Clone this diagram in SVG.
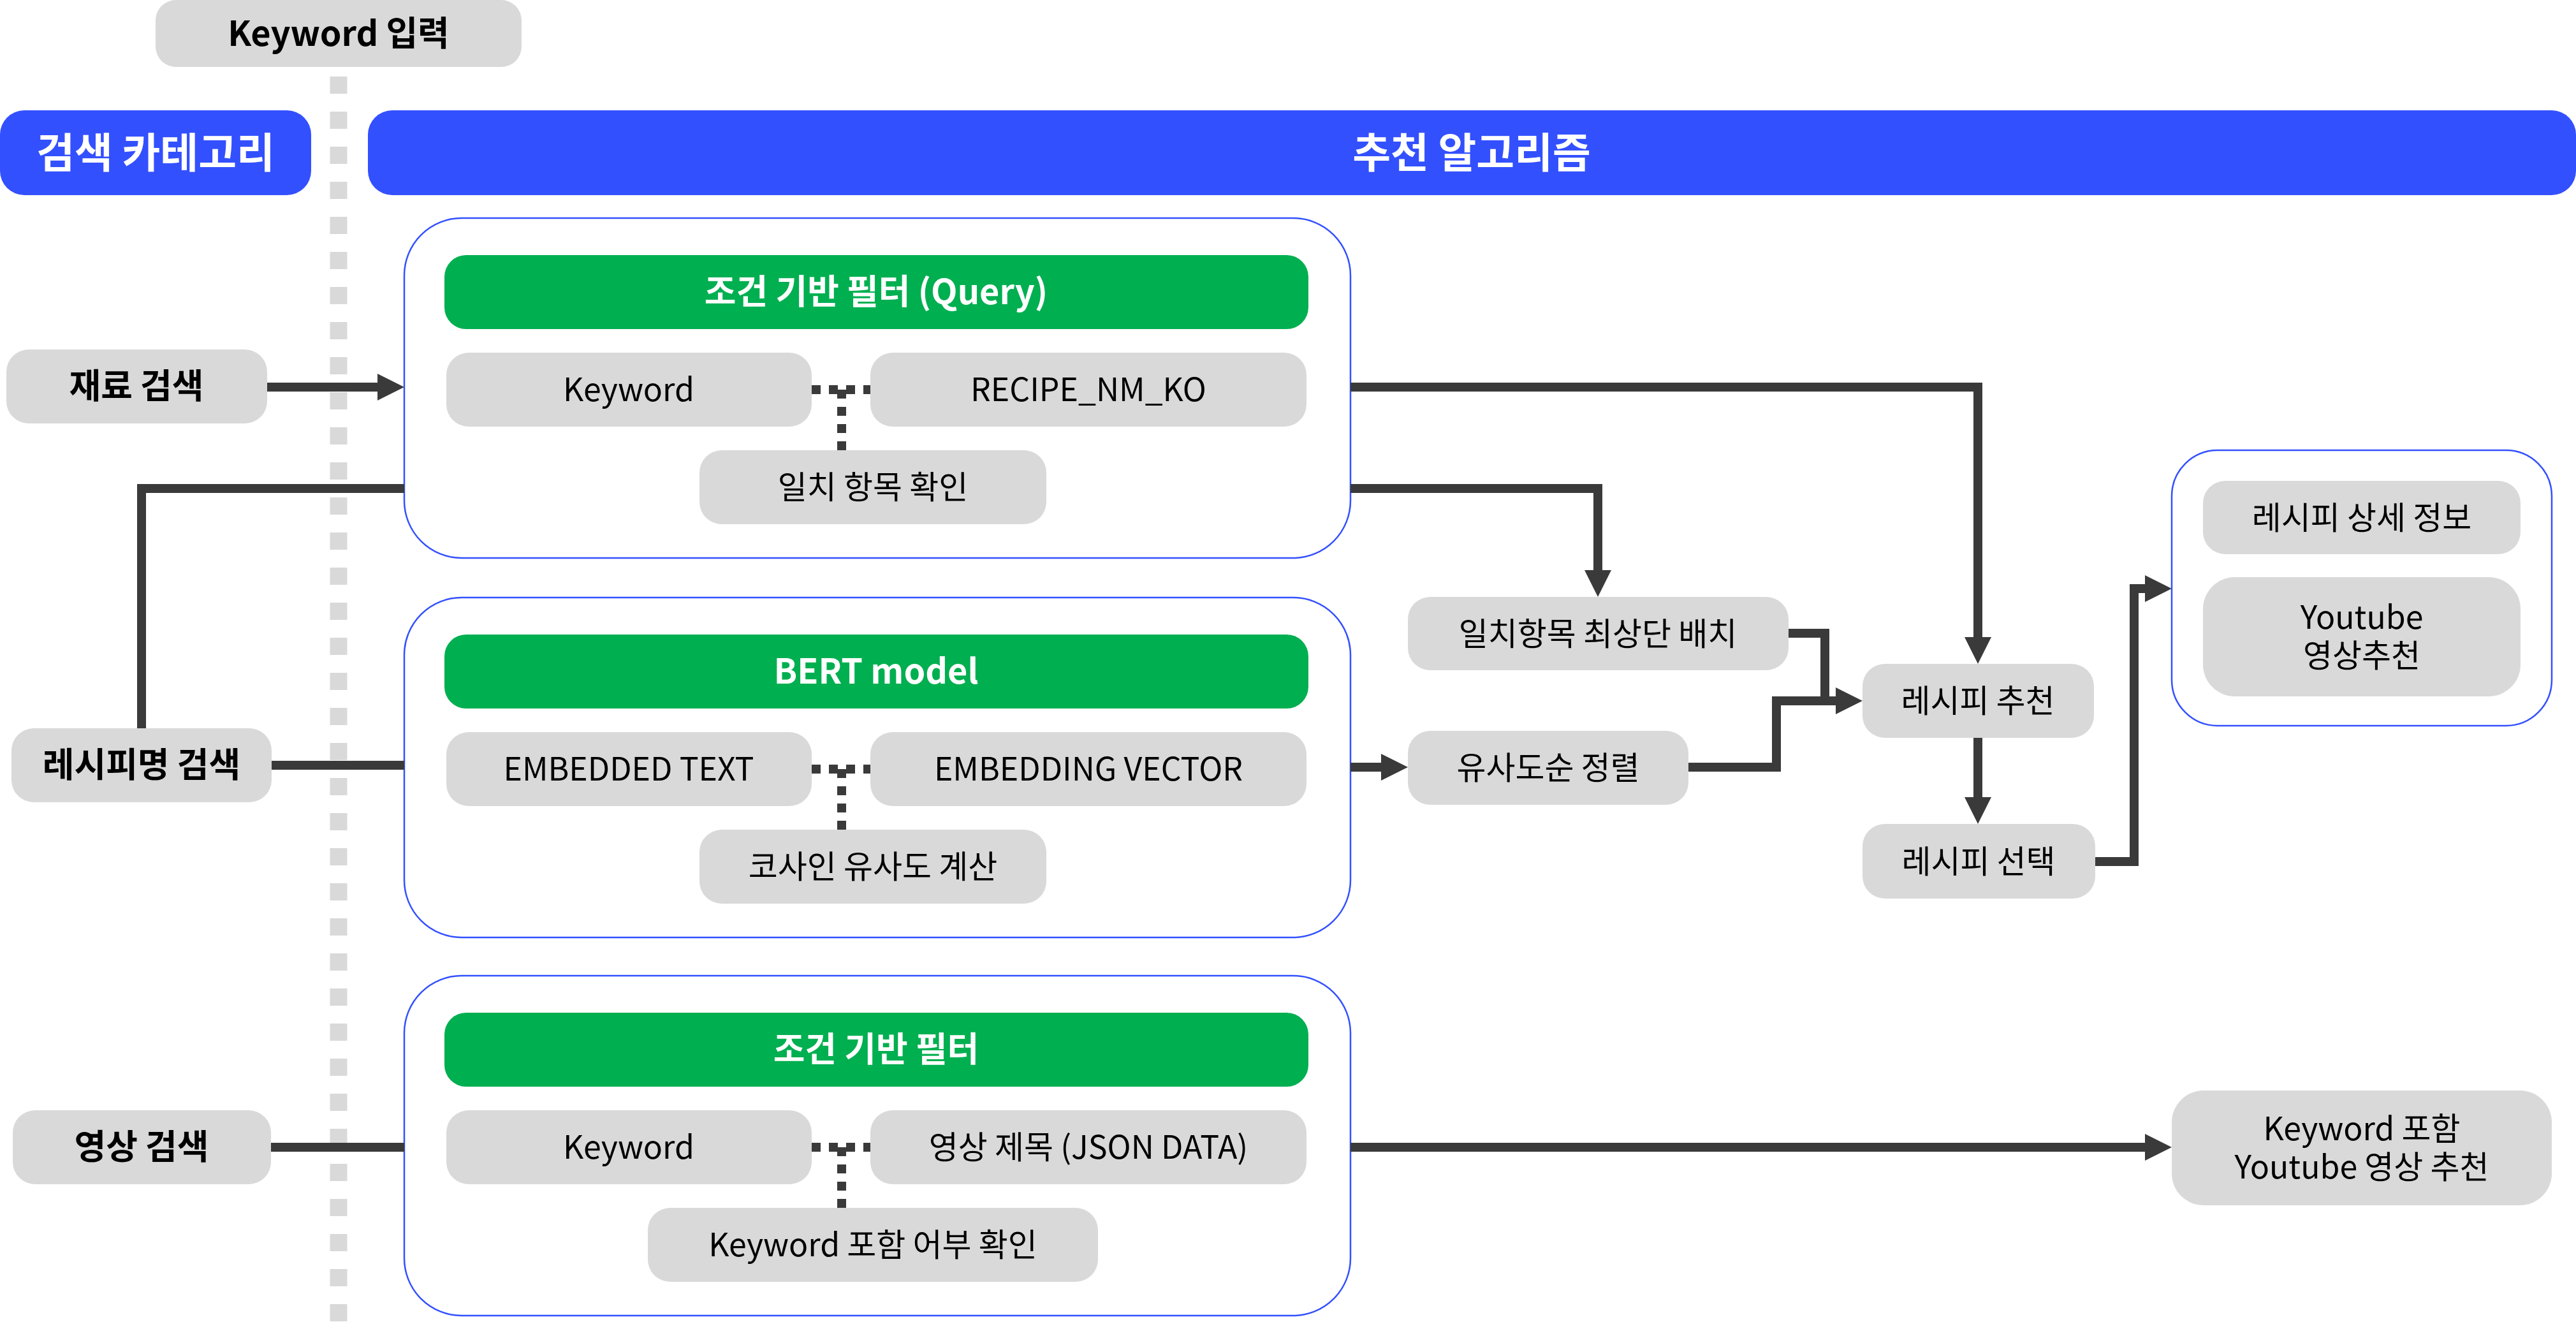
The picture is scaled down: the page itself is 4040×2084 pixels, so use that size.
<svg xmlns="http://www.w3.org/2000/svg" width="4040" height="2084" viewBox="0 0 4040 2084">
<defs>
<style>
.t{font-family:"Noto Sans CJK KR","Noto Sans",sans-serif;font-size:50px;text-anchor:middle;fill:#000}
.b{font-weight:700;font-size:54px}
.w{fill:#fff}
.h{font-size:65px;font-weight:700;fill:#fff}
.g{fill:#D9D9D9}
.gr{fill:#00AF50}
.bl{fill:#3350FF}
.frame{fill:#fff;stroke:#3350FF;stroke-width:2.5}
.ln{fill:none;stroke:#3a3a3a;stroke-width:14}
.dl{fill:none;stroke:#3a3a3a;stroke-width:14;stroke-dasharray:14 13}
</style>
<marker id="ah" markerUnits="userSpaceOnUse" markerWidth="42" markerHeight="42" viewBox="0 0 42 42" refX="0" refY="21" orient="auto">
<path d="M0,0 L42,21 L0,42 z" fill="#3a3a3a"/>
</marker>
</defs>
<rect width="4040" height="2084" fill="#fff"/>
<line x1="531" y1="120" x2="531" y2="2084" stroke="#D9D9D9" stroke-width="27" stroke-dasharray="27 28"/>

<g id="keyword-input"><rect class="g" x="244" y="0" width="574" height="105" rx="32"/><text class="t b" x="531" y="72">Keyword 입력</text></g>
<g id="category-header"><rect class="bl" x="0" y="173" width="488" height="133" rx="38"/><text class="t h" x="244" y="263">검색 카테고리</text></g>
<g id="algo-header"><rect class="bl" x="577" y="173" width="3463" height="133" rx="38"/><text class="t h" x="2308" y="263">추천 알고리즘</text></g>

<g id="search-ingredient"><rect class="g" x="10" y="548" width="409" height="116" rx="35"/><text class="t b" x="214" y="625">재료 검색</text></g>
<g id="search-recipe"><rect class="g" x="18" y="1142" width="408" height="116" rx="35"/><text class="t b" x="222" y="1219">레시피명 검색</text></g>
<g id="search-video"><rect class="g" x="20" y="1741" width="405" height="116" rx="35"/><text class="t b" x="222" y="1818">영상 검색</text></g>

<g id="box-query">
<rect class="frame" x="634" y="342" width="1484" height="533" rx="90"/>
<rect class="gr" x="697" y="400" width="1355" height="116" rx="34"/><text class="t b w" x="1374" y="477">조건 기반 필터 (Query)</text>
<rect class="g" x="700" y="553" width="573" height="116" rx="35"/><text class="t" x="986" y="629">Keyword</text>
<rect class="g" x="1365" y="553" width="684" height="116" rx="35"/><text class="t" x="1707" y="629">RECIPE_NM_KO</text>
<rect class="g" x="1097" y="706" width="544" height="116" rx="35"/><text class="t" x="1369" y="782">일치 항목 확인</text>
<path class="dl" d="M1273,611 H1365 M1320,611 V706"/>
</g>

<g id="box-bert">
<rect class="frame" x="634" y="937" width="1484" height="533" rx="90"/>
<rect class="gr" x="697" y="995" width="1355" height="116" rx="34"/><text class="t b w" x="1374" y="1072">BERT model</text>
<rect class="g" x="700" y="1148" width="573" height="116" rx="35"/><text class="t" x="986" y="1224">EMBEDDED TEXT</text>
<rect class="g" x="1365" y="1148" width="684" height="116" rx="35"/><text class="t" x="1707" y="1224">EMBEDDING VECTOR</text>
<rect class="g" x="1097" y="1301" width="544" height="116" rx="35"/><text class="t" x="1369" y="1377">코사인 유사도 계산</text>
<path class="dl" d="M1273,1206 H1365 M1320,1206 V1301"/>
</g>

<g id="box-video">
<rect class="frame" x="634" y="1530" width="1484" height="533" rx="90"/>
<rect class="gr" x="697" y="1588" width="1355" height="116" rx="34"/><text class="t b w" x="1374" y="1665">조건 기반 필터</text>
<rect class="g" x="700" y="1741" width="573" height="116" rx="35"/><text class="t" x="986" y="1817">Keyword</text>
<rect class="g" x="1365" y="1741" width="684" height="116" rx="35"/><text class="t" x="1707" y="1817">영상 제목 (JSON DATA)</text>
<rect class="g" x="1016" y="1894" width="706" height="116" rx="35"/><text class="t" x="1369" y="1970">Keyword 포함 어부 확인</text>
<path class="dl" d="M1273,1799 H1365 M1320,1799 V1894"/>
</g>

<g id="top-match"><rect class="g" x="2208" y="936" width="597" height="115" rx="35"/><text class="t" x="2506" y="1012">일치항목 최상단 배치</text></g>
<g id="sim-sort"><rect class="g" x="2208" y="1146" width="440" height="116" rx="35"/><text class="t" x="2428" y="1222">유사도순 정렬</text></g>
<g id="recipe-rec"><rect class="g" x="2921" y="1041" width="363" height="116" rx="35"/><text class="t" x="3102" y="1117">레시피 추천</text></g>
<g id="recipe-select"><rect class="g" x="2921" y="1292" width="365" height="117" rx="35"/><text class="t" x="3103" y="1369">레시피 선택</text></g>

<g id="result-box">
<rect class="frame" x="3406" y="706" width="596" height="432" rx="72"/>
<rect class="g" x="3455" y="754" width="498" height="115" rx="35"/><text class="t" x="3704" y="830">레시피 상세 정보</text>
<rect class="g" x="3455" y="905" width="498" height="187" rx="50"/><text class="t" x="3704" y="986">Youtube<tspan x="3704" dy="60">영상추천</tspan></text>
</g>
<g id="video-rec"><rect class="g" x="3406" y="1710" width="596" height="180" rx="50"/><text class="t" x="3704" y="1788">Keyword 포함<tspan x="3704" dy="60">Youtube 영상 추천</tspan></text></g>

<g id="connectors">
<path class="ln" d="M419,607 H592" marker-end="url(#ah)"/>
<path class="ln" d="M634,766 H222 V1142"/>
<path class="ln" d="M426,1200 H634"/>
<path class="ln" d="M425,1799 H634"/>
<path class="ln" d="M2118,607 H3102 V999" marker-end="url(#ah)"/>
<path class="ln" d="M2118,766 H2506 V894" marker-end="url(#ah)"/>
<path class="ln" d="M2118,1203 H2166" marker-end="url(#ah)"/>
<path class="ln" d="M2805,993 H2862 V1100"/>
<path class="ln" d="M2648,1203 H2786 V1099 H2879" marker-end="url(#ah)"/>
<path class="ln" d="M3102,1157 V1250" marker-end="url(#ah)"/>
<path class="ln" d="M3286,1351 H3347 V923 H3364" marker-end="url(#ah)"/>
<path class="ln" d="M2118,1799 H3364" marker-end="url(#ah)"/>
</g>
</svg>
